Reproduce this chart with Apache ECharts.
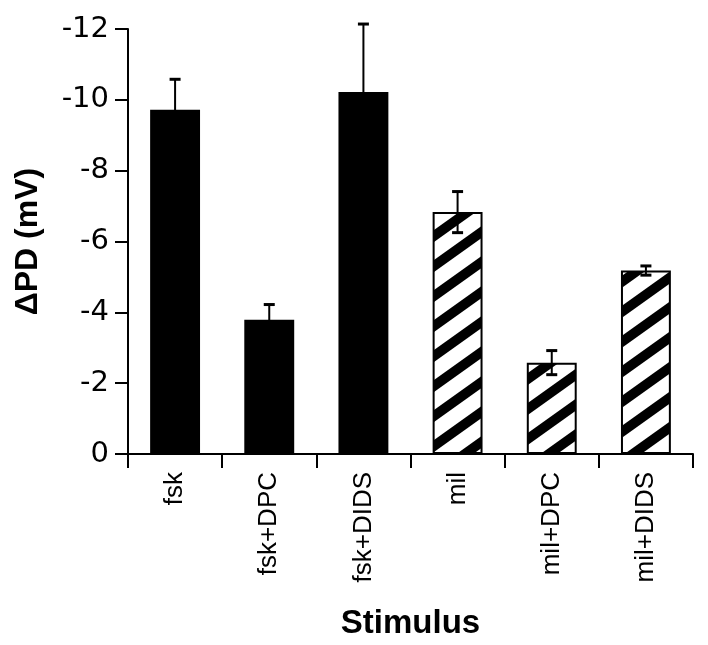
<!DOCTYPE html>
<html>
<head>
<meta charset="utf-8">
<script src="https://cdn.jsdelivr.net/npm/echarts@6/dist/echarts.min.js"></script>
<style>
  html, body { margin: 0; padding: 0; background: #fff; }
  #chart { width: 708px; height: 645px; }
</style>
</head>
<body>
<div id="chart"></div>
<script>
// ---- data ----
var categories = ['fsk', 'fsk+DPC', 'fsk+DIDS', 'mil', 'mil+DPC', 'mil+DIDS'];
var meanValues = [-9.72, -3.79, -10.22, -6.83, -2.58, -5.18];
var errValues  = [0.86, 0.43, 1.92, 0.58, 0.34, 0.13];
var hatched    = [false, false, false, true, true, true];
var yTicks     = [0, -2, -4, -6, -8, -10, -12];

// ---- hatch pattern ----
function makeHatch() {
  var W = 42, H = 30, t = 12;
  var c = document.createElement('canvas');
  c.width = W; c.height = H;
  var g = c.getContext('2d');
  g.fillStyle = '#fff';
  g.fillRect(0, 0, W, H);
  g.fillStyle = '#000';
  for (var k = -1; k <= 2; k++) {
    var y0 = k * H;
    g.beginPath();
    g.moveTo(0, y0);
    g.lineTo(W, y0 - H);
    g.lineTo(W, y0 - H + t);
    g.lineTo(0, y0 + t);
    g.closePath();
    g.fill();
  }
  return c;
}
var hatchImg = makeHatch();

var barData = meanValues.map(function (v, i) {
  return {
    value: v,
    itemStyle: hatched[i]
      ? { color: { image: hatchImg, repeat: 'repeat' }, borderColor: '#000', borderWidth: 2 }
      : { color: '#000', borderColor: '#000', borderWidth: 0 }
  };
});
var errData = meanValues.map(function (v, i) {
  return [i, v + errValues[i], v - errValues[i]];
});

var chart = echarts.init(document.getElementById('chart'), null, { renderer: 'canvas' });
var option = {
  animation: false,
  backgroundColor: '#fff',
  grid: { left: 128, right: 15, top: 29, bottom: 191 },
  xAxis: {
    type: 'category',
    data: categories,
    boundaryGap: true,
    name: 'Stimulus',
    nameLocation: 'middle',
    nameGap: 153,
    nameTextStyle: { fontFamily: 'Liberation Sans', fontWeight: 'bold', fontSize: 33, color: '#000' },
    axisLine: { onZero: false, lineStyle: { color: '#000', width: 2 } },
    axisTick: { show: true, alignWithLabel: false, length: 14, lineStyle: { color: '#000', width: 2 } },
    axisLabel: { rotate: 90, margin: 18, fontFamily: 'Liberation Sans', fontSize: 26, color: '#000', interval: 0 },
    splitLine: { show: false }
  },
  yAxis: {
    type: 'value',
    inverse: true,
    min: -12,
    max: 0,
    interval: 2,
    name: 'ΔPD (mV)',
    nameLocation: 'middle',
    nameRotate: 90,
    nameGap: 84,
    nameTextStyle: { fontFamily: 'Liberation Sans', fontWeight: 'bold', fontSize: 32, color: '#000' },
    axisLine: { show: true, lineStyle: { color: '#000', width: 2 } },
    axisTick: { show: true, length: 13, lineStyle: { color: '#000', width: 2 } },
    axisLabel: { margin: 19, fontFamily: 'DejaVu Sans', fontSize: 29, color: '#000' },
    splitLine: { show: false }
  },
  series: [
    {
      type: 'bar',
      data: barData,
      barWidth: '53%'
    },
    {
      type: 'custom',
      data: errData,
      z: 5,
      renderItem: function (params, api) {
        var x = api.value(0);
        var hi = api.coord([x, api.value(2)]);
        var lo = api.coord([x, api.value(1)]);
        var hw = 5.5;
        return {
          type: 'group',
          children: [
            { type: 'line', shape: { x1: hi[0], y1: hi[1], x2: lo[0], y2: lo[1] }, style: { stroke: '#000', lineWidth: 2 } },
            { type: 'line', shape: { x1: hi[0] - hw, y1: hi[1], x2: hi[0] + hw, y2: hi[1] }, style: { stroke: '#000', lineWidth: 3 } },
            { type: 'line', shape: { x1: lo[0] - hw, y1: lo[1], x2: lo[0] + hw, y2: lo[1] }, style: { stroke: '#000', lineWidth: 3 } }
          ]
        };
      }
    }
  ]
};
chart.setOption(option);
</script>
</body>
</html>
